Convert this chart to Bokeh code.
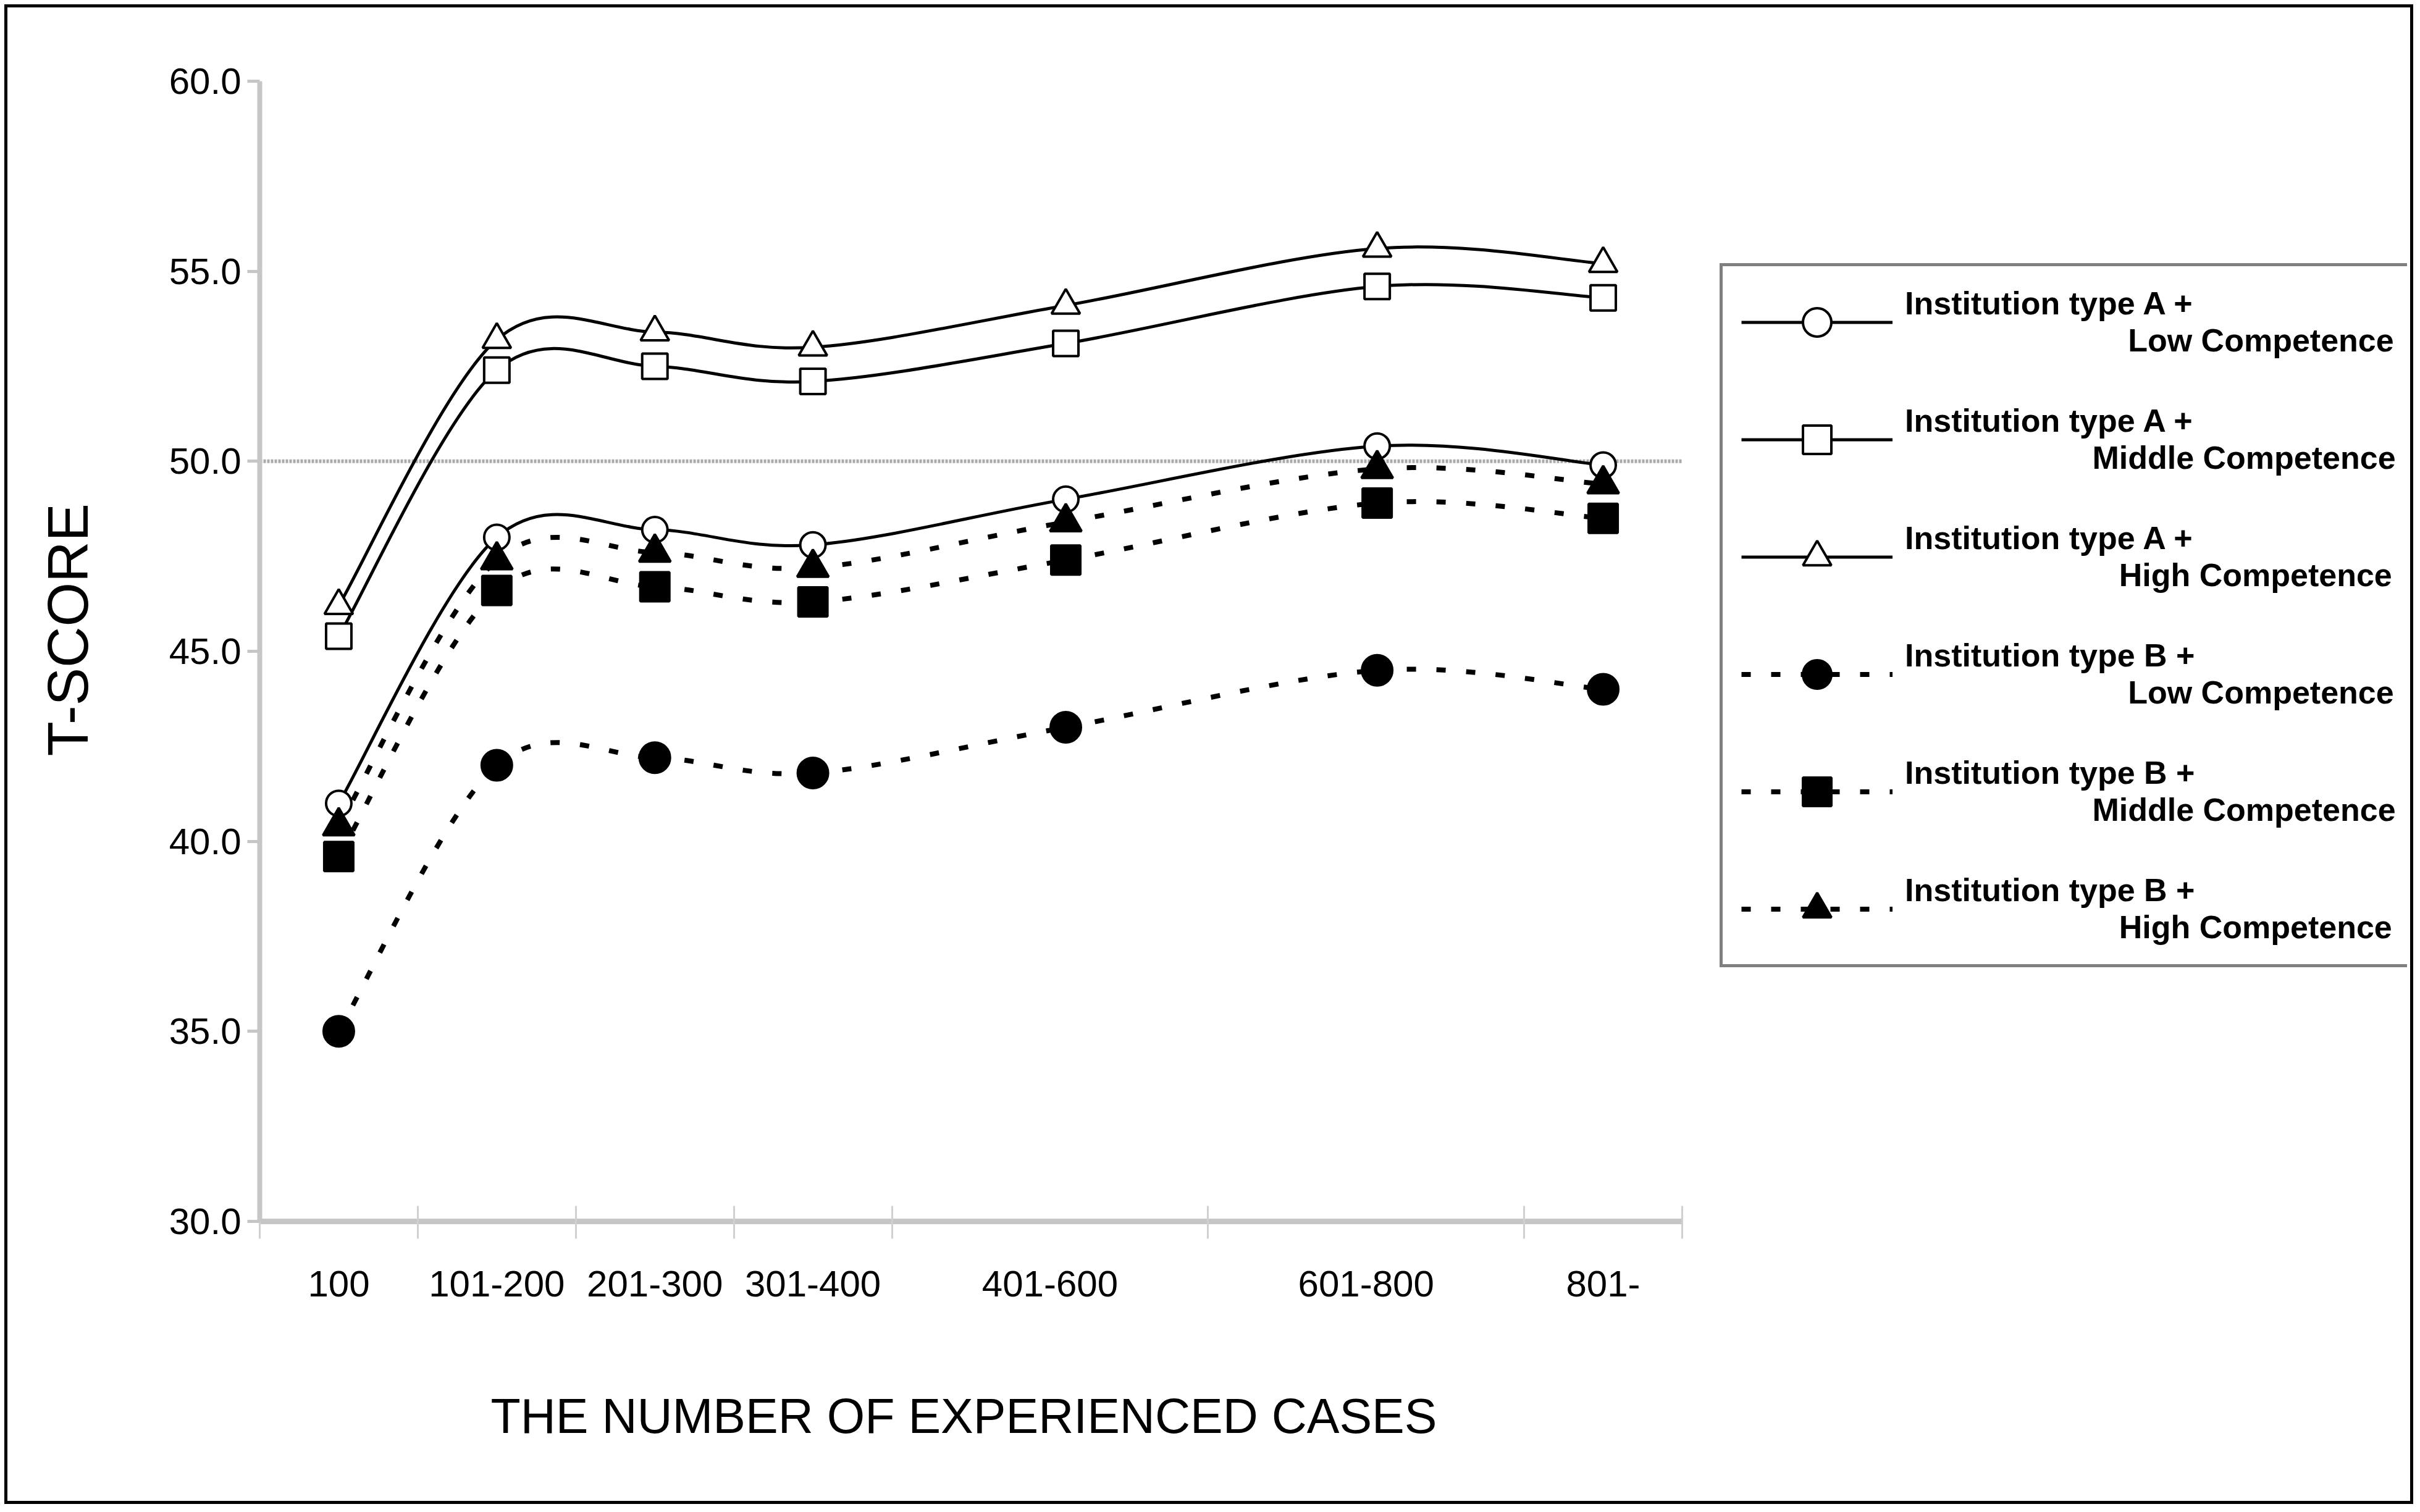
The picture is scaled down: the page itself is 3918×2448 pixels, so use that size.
from bokeh.plotting import figure
from bokeh.models import (Range1d, FixedTicker, NumeralTickFormatter, Title,
                          Legend, LegendItem, ColumnDataSource)
from bokeh.embed import file_html
from bokeh.resources import INLINE

# ---------------- data ----------------
categories = ["100", "101-200", "201-300", "301-400", "401-600", "601-800", "801-"]

a_low = [41.0, 48.0, 48.2, 47.8, 49.0, 50.4, 49.9]
a_middle = [45.4, 52.4, 52.5, 52.1, 53.1, 54.6, 54.3]
a_high = [46.2, 53.2, 53.4, 53.0, 54.1, 55.6, 55.2]
b_low = [35.0, 42.0, 42.2, 41.8, 43.0, 44.5, 44.0]
b_middle = [39.6, 46.6, 46.7, 46.3, 47.4, 48.9, 48.5]
b_high = [40.4, 47.4, 47.6, 47.2, 48.4, 49.8, 49.4]

institutions = ["A", "A", "A", "B", "B", "B"]
competences = ["Low", "Middle", "High", "Low", "Middle", "High"]
values = [a_low, a_middle, a_high, b_low, b_middle, b_high]

y_ticks = [30, 35, 40, 45, 50, 55, 60]
mean_score = 50

# ---------------- axis layout (positions on a 0..9 slot scale) ----------------
label_pos = [0.5, 1.5, 2.5, 3.5, 5.0, 7.0, 8.5]
point_pos = [0.5, 1.5, 2.5, 3.5, 5.1, 7.07, 8.5]
slot_edges = [0, 1, 2, 3, 4, 6, 8, 9]
x_bounds = (0, 9)

FONT = "Liberation Sans"
GRAY = "#c6c6c6"
NBSP = "\u00a0"

# pixel layout: the plotting frame is widened to the right so the legend can sit in it;
# the x axis itself is bounded to the 9 category slots.
AXIS_PX = 2303
FRAME_PX = 3477
x_end = x_bounds[1] * FRAME_PX / AXIS_PX


def bezier_source(xs, ys):
    """Smooth (Catmull-Rom style) Bezier segments through the data points."""
    n = len(xs)
    cols = {k: [] for k in ("x0", "y0", "x1", "y1", "cx0", "cy0", "cx1", "cy1")}
    for i in range(n - 1):
        im = i - 1 if i > 0 else i
        i2 = i + 2 if i + 2 < n else i + 1
        cols["x0"].append(xs[i]); cols["y0"].append(ys[i])
        cols["x1"].append(xs[i + 1]); cols["y1"].append(ys[i + 1])
        cols["cx0"].append(xs[i] + (xs[i + 1] - xs[im]) / 6.0)
        cols["cy0"].append(ys[i] + (ys[i + 1] - ys[im]) / 6.0)
        cols["cx1"].append(xs[i + 1] - (xs[i2] - xs[i]) / 6.0)
        cols["cy1"].append(ys[i + 1] - (ys[i2] - ys[i]) / 6.0)
    return ColumnDataSource(cols)


p = figure(width=3890, height=2418,
           x_range=Range1d(0, x_end), y_range=Range1d(30, 60),
           output_backend="svg", toolbar_location=None,
           min_border_left=408, min_border_right=3890 - 408 - FRAME_PX,
           min_border_top=119, min_border_bottom=453,
           margin=(12, 5, 5, 12),
           background_fill_color="white", border_fill_color="white",
           styles={"outline": "5px solid black"})
p.outline_line_color = None
p.xgrid.visible = False
p.ygrid.visible = False

# y axis
p.yaxis.ticker = FixedTicker(ticks=y_ticks)
p.yaxis.formatter = NumeralTickFormatter(format="0.0")
p.yaxis.axis_line_color = GRAY
p.yaxis.axis_line_width = 8
p.yaxis.major_tick_line_color = GRAY
p.yaxis.major_tick_line_width = 5
p.yaxis.major_tick_in = 0
p.yaxis.major_tick_out = 20
p.yaxis.minor_tick_line_color = None
p.yaxis.major_label_standoff = 10
p.yaxis.major_label_text_font = FONT
p.yaxis.major_label_text_font_size = "60px"
p.yaxis.major_label_text_color = "black"
# two leading no-break spaces nudge the centred title slightly upwards
p.yaxis.axis_label = NBSP * 2 + "\u2009" + "T-SCORE"
p.yaxis.axis_label_text_font = FONT
p.yaxis.axis_label_text_font_size = "92px"
p.yaxis.axis_label_text_font_style = "normal"
p.yaxis.axis_label_text_color = "black"
p.yaxis.axis_label_standoff = 110

# x axis (bounded to the category slots)
p.xaxis.bounds = x_bounds
p.xaxis.ticker = FixedTicker(ticks=label_pos, minor_ticks=slot_edges)
p.xaxis.major_label_overrides = {pos: lab for pos, lab in zip(label_pos, categories)}
p.xaxis.axis_line_color = GRAY
p.xaxis.axis_line_width = 9
p.xaxis.major_tick_line_color = None
p.xaxis.major_tick_in = 0
p.xaxis.major_tick_out = 0
p.xaxis.minor_tick_line_color = "#d0d0d0"
p.xaxis.minor_tick_line_width = 3
p.xaxis.minor_tick_in = 25
p.xaxis.minor_tick_out = 28
p.xaxis.major_label_standoff = 52
p.xaxis.major_label_text_font = FONT
p.xaxis.major_label_text_font_size = "60px"
p.xaxis.major_label_text_color = "black"
# a blank axis label only reserves vertical room between tick labels and the x title
p.xaxis.axis_label = NBSP
p.xaxis.axis_label_text_font_size = "10px"
p.xaxis.axis_label_standoff = 80

# x axis title, left-aligned under the bounded axis
p.add_layout(Title(text="THE NUMBER OF EXPERIENCED CASES", align="left", offset=374,
                   standoff=100, text_font=FONT, text_font_size="79px",
                   text_font_style="normal", text_color="black"), "below")

# reference line at T = 50 across the category slots
p.segment(x0=[x_bounds[0]], y0=[mean_score], x1=[x_bounds[1]], y1=[mean_score],
          line_color="#aaaaaa", line_width=6, line_dash="4 2", level="underlay")

markers = ["circle", "square", "triangle", "circle", "square", "triangle"]
sizes = [41, 41, 46, 49, 47, 51]
fills = ["white", "white", "white", "black", "black", "black"]
dashes = ["solid", "solid", "solid", "15 33", "15 33", "15 33"]
widths = [5, 5, 5, 8, 8, 8]
pad_spaces = {"Low": 25, "Middle": 21, "High": 24}

items = []
for inst, comp, vals, mk, sz, fc, ds, lw in zip(institutions, competences, values,
                                                markers, sizes, fills, dashes, widths):
    src = bezier_source(point_pos, vals)
    r_line = p.bezier(x0="x0", y0="y0", x1="x1", y1="y1",
                      cx0="cx0", cy0="cy0", cx1="cx1", cy1="cy1", source=src,
                      line_color="black", line_width=lw, line_dash=ds)
    r_pts = p.scatter(x=point_pos, y=vals, marker=mk, size=sz,
                      fill_color=fc, line_color="black", line_width=4)
    label = f"Institution type {inst} +\n{NBSP * pad_spaces[comp]}{comp} Competence"
    items.append(LegendItem(label=label, renderers=[r_line, r_pts]))

# legend placed relative to the plot frame (bottom-left origin)
legend = Legend(items=items, location=(2364, 411), orientation="vertical",
                glyph_width=245, glyph_height=115, label_standoff=20,
                spacing=70, padding=30, margin=0,
                border_line_color="black", border_line_width=5,
                background_fill_color="white", background_fill_alpha=1.0,
                label_text_font=FONT, label_text_font_style="bold",
                label_text_font_size="52px", label_text_line_height=1.13,
                label_text_color="black")
p.add_layout(legend)

open("out.html", "w").write(file_html(p, INLINE))
